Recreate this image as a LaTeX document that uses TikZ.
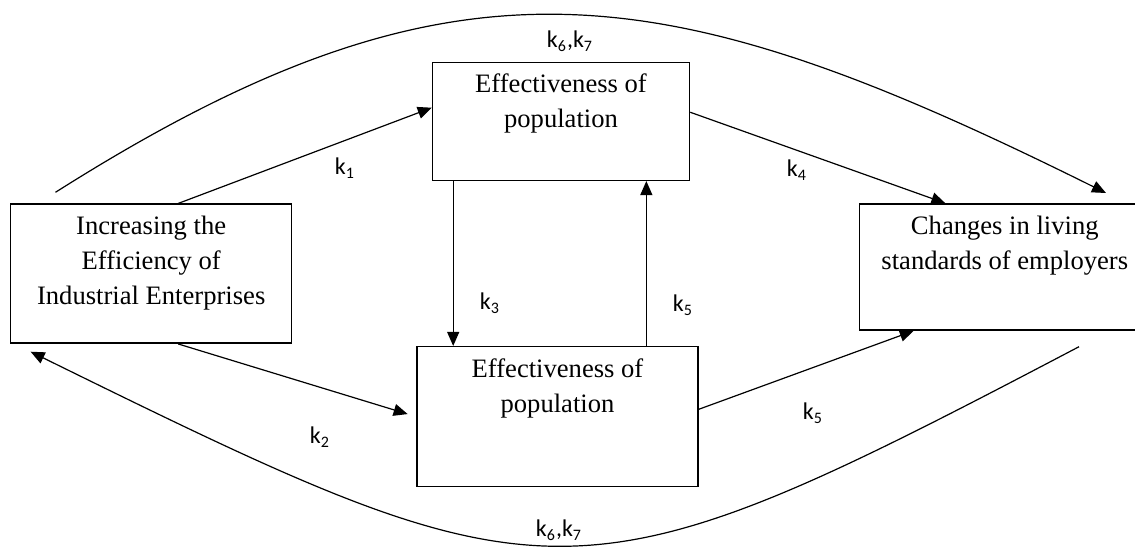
\documentclass[tikz,border=0pt]{standalone}
\usepackage{fontspec}
\setmainfont{Liberation Serif}
\newfontfamily\labfont{Carlito}
\usetikzlibrary{arrows.meta,positioning}

\begin{document}
\begin{tikzpicture}[x=0.5pt, y=-0.5pt,
    box/.style={draw, line width=0.75pt, rectangle, inner sep=0pt},
    boxtext/.style={align=center, inner sep=0pt, font=\fontsize{13.3pt}{17.5pt}\selectfont},
    lab/.style={inner sep=0pt, font=\labfont\fontsize{12pt}{14pt}\selectfont},
    conn/.style={line width=0.6pt, -{Triangle[length=7pt,width=6pt]}}]
    \useasboundingbox (0,0) rectangle (1135,551);
    % boxes
    \node[box, minimum width=140.5pt, minimum height=69.5pt] (inc) at (151.2,273.7) {};
    \node[box, minimum width=128.5pt, minimum height=59pt] (popA) at (561,121.3) {};
    \node[box, minimum width=140.5pt, minimum height=70pt] (popB) at (557.5,416.7) {};
    \node[box, minimum width=145.2pt, minimum height=63pt] (chg) at (1004.8,267) {};
    \node[boxtext, below=6pt of inc.north] (incT) {Increasing the\\Efficiency of\\Industrial Enterprises};
    \node[boxtext, below=6pt of popA.north] (popAT) {Effectiveness of\\population};
    \node[boxtext, below=6pt of popB.north] (popBT) {Effectiveness of\\population};
    \node[boxtext, below=6pt of chg.north] (chgT) {Changes in living\\standards of employers};
    % straight links
    \draw[conn] (inc.69.7) -- (popA.174.1);
    \draw[conn, shorten >=4.5pt] (inc.-69.7) -- (popB.west);
    \draw[conn] (popA.209) -- (popA.209 |- popB.north);
    \draw[conn] (popA.-35.2 |- popB.north) -- (popA.-35.2);
    \draw[conn] (popA.4.6) -- (chg.133.5);
    \draw[conn] (popB.3.5) -- (chg.215.4);
    % feedback curves
    \coordinate (topS) at (55.5,192.3);
    \coordinate (topE) at (1106,193);
    \coordinate (botS) at (1079,346.7);
    \coordinate (botE) at (30.6,351.7);
    \draw[conn] (topS) .. controls (457,-62) and (665,-26) .. (topE);
    \draw[conn] (botS) .. controls (572,613) and (554,609) .. (botE);
    % coefficients
    \node[lab] (k1) at (345,168) {k\textsubscript{1}};
    \node[lab] (k2) at (320,437) {k\textsubscript{2}};
    \node[lab] (k3) at (490,303) {k\textsubscript{3}};
    \node[lab] (k4) at (797,170) {k\textsubscript{4}};
    \node[lab] (k5a) at (683,305) {k\textsubscript{5}};
    \node[lab] (k5b) at (813,413) {k\textsubscript{5}};
    \node[lab] (k67a) at (570,41) {k\textsubscript{6},k\textsubscript{7}};
    \node[lab] (k67b) at (559,530) {k\textsubscript{6},k\textsubscript{7}};
\end{tikzpicture}
\end{document}
